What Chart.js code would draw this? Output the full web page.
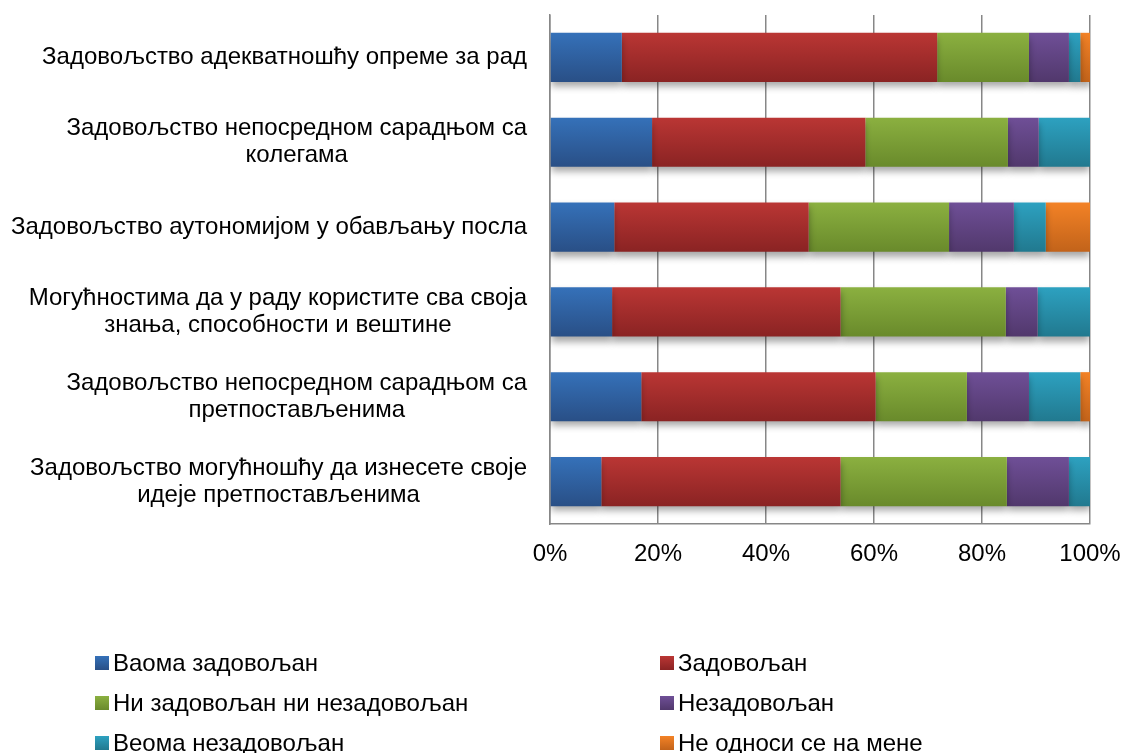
<!DOCTYPE html>
<html>
<head>
<meta charset="utf-8">
<script src="https://cdn.jsdelivr.net/npm/chart.js@4.4.1/dist/chart.umd.min.js"></script>
<style>
  body { margin: 0; background: #fff; font-family: "Liberation Sans", Arial, sans-serif; }
  #wrap { position: relative; width: 1124px; height: 753px; }
  #legend { position: absolute; left: 0; top: 0; width: 1124px; height: 753px; pointer-events: none; }
  .item { position: absolute; font-size: 24px; color: #000; white-space: nowrap; line-height: 28px; }
  .item span { display: inline-block; width: 14px; height: 14px; margin-right: 4px; vertical-align: 1px; }
</style>
</head>
<body>
<div id="wrap">
  <canvas id="myChart" width="1124" height="753"></canvas>
  <div id="legend"></div>
</div>
<script>
var categories = [
  ['Задовољство адекватношћу опреме за рад'],
  ['Задовољство непосредном сарадњом са', 'колегама'],
  ['Задовољство аутономијом у обављању посла'],
  ['Могућностима да у раду користите сва своја', 'знања, способности и вештине'],
  ['Задовољство непосредном сарадњом са', 'претпостављенима'],
  ['Задовољство могућношћу да изнесете своје', 'идеје претпостављенима']
];
var seriesNames = ['Ваома задовољан', 'Задовољан', 'Ни задовољан ни незадовољан', 'Незадовољан', 'Веома незадовољан', 'Не односи се на мене'];
var veryHappy   = [13.3, 18.9, 11.9, 11.5, 16.9, 9.5];
var happy       = [58.4, 39.5, 36.0, 42.3, 43.4, 44.3];
var neutral     = [17.0, 26.4, 26.0, 30.6, 16.9, 30.8];
var unhappy     = [7.4, 5.7, 12.0, 5.9, 11.5, 11.5];
var veryUnhappy = [2.1, 9.5, 5.9, 9.7, 9.5, 4.0];
var notApply    = [1.9, 0, 8.2, 0, 1.9, 0];
var tickLabels = ['0%', '20%', '40%', '60%', '80%', '100%'];

var topColors = ['#3571b9', '#ba3634', '#8bb040', '#6f4f97', '#2da1c0', '#f38226'];
var botColors = ['#294f86', '#8a2323', '#698a2b', '#51386c', '#21798f', '#c2631a'];
var values = [veryHappy, happy, neutral, unhappy, veryUnhappy, notApply];
var barPct = 0.58;
var fontFam = '"Liberation Sans", Arial, sans-serif';

function shade(i) {
  return function(c) {
    var y = c.chart.scales.y;
    if (!y || !y.height) return topColors[i];
    var mid = y.getPixelForValue(c.dataIndex);
    var half = y.height / categories.length * barPct / 2;
    var g = c.chart.ctx.createLinearGradient(0, mid - half, 0, mid + half);
    g.addColorStop(0, topColors[i]);
    g.addColorStop(1, botColors[i]);
    return g;
  };
}

var datasets = [];
for (var i = 0; i < seriesNames.length; i++) {
  datasets.push({
    label: seriesNames[i],
    data: values[i],
    backgroundColor: shade(i),
    borderWidth: 0,
    barPercentage: barPct,
    categoryPercentage: 1
  });
}

// soft shadow under the bars
var shadowPlugin = {
  id: 'shadow',
  beforeDatasetsDraw: function(chart) {
    var ctx = chart.ctx;
    ctx.save();
    ctx.shadowColor = 'rgba(0,0,0,0.35)';
    ctx.shadowBlur = 7;
    ctx.shadowOffsetY = 5;
  },
  afterDatasetsDraw: function(chart) { chart.ctx.restore(); }
};

// category labels: block right aligned, lines centered in block
var catLabels = {
  id: 'catLabels',
  afterDraw: function(chart) {
    var ctx = chart.ctx, y = chart.scales.y;
    ctx.save();
    ctx.font = '24px ' + fontFam;
    ctx.fillStyle = '#000';
    ctx.textAlign = 'center';
    ctx.textBaseline = 'middle';
    var right = 527, lh = 27;
    categories.forEach(function(lines, k) {
      var w = 0;
      lines.forEach(function(t) { w = Math.max(w, ctx.measureText(t).width); });
      var cy = y.getPixelForValue(k) - (lines.length - 1) * lh / 2;
      lines.forEach(function(t, j) { ctx.fillText(t, right - w / 2, cy + j * lh); });
    });
    ctx.restore();
  }
};

var ctx = document.getElementById('myChart').getContext('2d');
var chart = new Chart(ctx, {
  type: 'bar',
  data: { labels: categories.map(function(l) { return l.join(' '); }), datasets: datasets },
  options: {
    indexAxis: 'y',
    responsive: false,
    animation: false,
    layout: { padding: { left: 0, right: 34, top: 15, bottom: 184 } },
    plugins: { legend: { display: false }, tooltip: { enabled: false } },
    scales: {
      x: {
        stacked: true, min: 0, max: 100,
        grid: { color: '#878787', lineWidth: 1.5, drawTicks: false },
        border: { color: '#878787', width: 1.5 },
        ticks: {
          stepSize: 20, padding: 16, color: '#000',
          font: { family: fontFam, size: 24 },
          callback: function(v) { return tickLabels[v / 20]; }
        },
        afterFit: function(s) { s.height = 45; s.paddingLeft = 0; s.paddingRight = 0; }
      },
      y: {
        stacked: true,
        grid: { display: false, drawTicks: false },
        border: { color: '#878787', width: 1.5 },
        ticks: { display: false },
        afterFit: function(s) { s.width = 550; s.paddingTop = 0; s.paddingBottom = 0; }
      }
    }
  },
  plugins: [shadowPlugin, catLabels]
});

// legend in two columns
var legendPos = [[95, 649], [660, 649], [95, 689], [660, 689], [95, 729], [660, 729]];
var leg = document.getElementById('legend');
seriesNames.forEach(function(n, k) {
  var d = document.createElement('div');
  d.className = 'item';
  d.style.left = legendPos[k][0] + 'px';
  d.style.top = legendPos[k][1] + 'px';
  d.innerHTML = '<span style="background:linear-gradient(' + topColors[k] + ',' + botColors[k] + ')"></span>' + n;
  leg.appendChild(d);
});
</script>
</body>
</html>
